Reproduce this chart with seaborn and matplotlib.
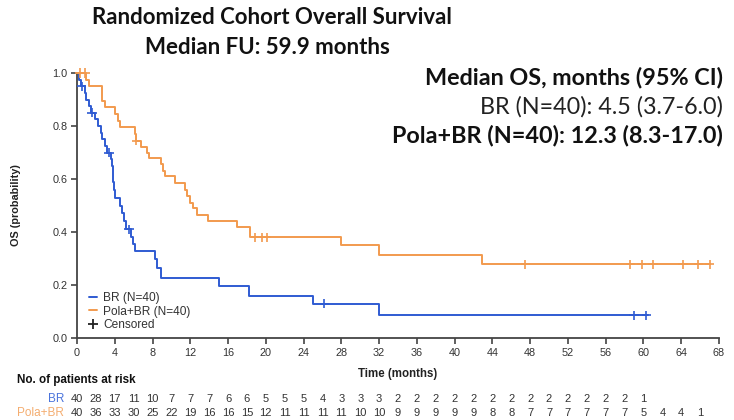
import numpy as np
import pandas as pd
import matplotlib
matplotlib.use("Agg")
import matplotlib.pyplot as plt
import matplotlib.transforms as mtransforms
from matplotlib.lines import Line2D
import seaborn as sns

# ---------------- data ----------------
arms = ["BR (N=40)", "Pola+BR (N=40)"]

br_times = [0, 0.2, 0.4, 0.8, 1.0, 1.3, 1.5, 1.9, 2.2, 2.5, 2.7, 3.0, 3.2, 3.6, 3.75,
            3.8, 3.85, 3.9, 4.0, 4.6, 4.8, 5.0, 5.2, 5.7, 5.9, 6.1, 8.3, 8.5, 8.9,
            15.0, 18.2, 25.0, 32.0, 60.5]
br_surv = [1.0, 0.975, 0.95, 0.925, 0.90, 0.875, 0.85, 0.825, 0.80, 0.775, 0.75, 0.725,
           0.70, 0.675, 0.65, 0.62, 0.59, 0.56, 0.53, 0.50, 0.47, 0.44, 0.41, 0.38,
           0.355, 0.33, 0.30, 0.265, 0.225, 0.195, 0.16, 0.13, 0.085, 0.085]
br_censor = [0.5, 1.6, 3.4, 5.5, 26.2, 59.0, 60.3]

pola_times = [0, 1.0, 1.3, 2.6, 2.7, 3.0, 4.0, 4.3, 4.6, 6.1, 6.2, 6.8, 7.4, 7.6, 8.9,
              9.1, 9.3, 10.4, 11.4, 11.7, 12.0, 12.3, 12.7, 13.9, 16.9, 18.3, 28.0,
              32.0, 42.9, 67.0]
pola_surv = [1.0, 0.975, 0.95, 0.925, 0.895, 0.87, 0.845, 0.82, 0.795, 0.77, 0.745,
             0.72, 0.70, 0.68, 0.655, 0.63, 0.61, 0.585, 0.56, 0.535, 0.51, 0.49,
             0.465, 0.44, 0.42, 0.38, 0.35, 0.315, 0.278, 0.278]
pola_censor = [0.3, 0.85, 6.3, 18.9, 19.6, 20.1, 47.5, 58.6, 59.8, 61.0, 64.2, 65.8, 67.0]

risk_times = list(range(0, 68, 2))
br_risk = [40, 28, 17, 11, 10, 7, 7, 7, 6, 6, 5, 5, 5, 4, 3, 3, 3,
           2, 2, 2, 2, 2, 2, 2, 2, 2, 2, 2, 2, 2, 1]
pola_risk = [40, 36, 33, 30, 25, 22, 19, 16, 16, 15, 12, 11, 11, 11, 11, 10, 10,
             9, 9, 9, 9, 9, 8, 8, 7, 7, 7, 7, 7, 7, 5, 4, 4, 1]

x_ticks = list(range(0, 69, 4))
y_ticks = [0.0, 0.2, 0.4, 0.6, 0.8, 1.0]

title_lines = ["Randomized Cohort Overall Survival", "Median FU: 59.9 months"]
median_header = "Median OS, months (95% CI)"
median_br = "BR (N=40): 4.5 (3.7-6.0)"
median_pola = "Pola+BR (N=40): 12.3 (8.3-17.0)"

# ---------------- style ----------------
BLUE = "#2f5bd2"
ORANGE = "#f29a4e"
BLUE_TXT = "#4b74dc"
ORANGE_TXT = "#f4ad70"
SMALL = ["Liberation Sans", "DejaVu Sans"]

sns.set_style("white")
plt.rcParams["font.family"] = ["Lato", "DejaVu Sans"]

df = pd.concat([
    pd.DataFrame({"time": br_times, "surv": br_surv, "arm": arms[0]}),
    pd.DataFrame({"time": pola_times, "surv": pola_surv, "arm": arms[1]}),
], ignore_index=True)


def surv_at(times, surv, t):
    idx = np.searchsorted(np.asarray(times), t, side="right") - 1
    return np.asarray(surv)[idx]


cens = pd.concat([
    pd.DataFrame({"time": br_censor, "surv": surv_at(br_times, br_surv, br_censor), "arm": arms[0]}),
    pd.DataFrame({"time": pola_censor, "surv": surv_at(pola_times, pola_surv, pola_censor), "arm": arms[1]}),
], ignore_index=True)

palette = {arms[0]: BLUE, arms[1]: ORANGE}

fig = plt.figure(figsize=(7.34, 4.2), dpi=100)
ax = fig.add_axes([77 / 734, 1 - 338 / 420, (719 - 77) / 734, (338 - 73) / 420])

sns.lineplot(data=df, x="time", y="surv", hue="arm", palette=palette,
             drawstyle="steps-post", estimator=None, linewidth=1.4, ax=ax,
             legend=False, clip_on=False, zorder=3)
sns.scatterplot(data=cens, x="time", y="surv", hue="arm", palette=palette,
                marker="+", s=45, linewidth=1.2, ax=ax, legend=False,
                clip_on=False, zorder=4)

ax.set_xlim(0, 68)
ax.set_ylim(0, 1.0)
ax.set_xticks(x_ticks)
ax.set_yticks(y_ticks)
ax.set_yticklabels([f"{v:.1f}" for v in y_ticks])
sns.despine(ax=ax)
for s in ["left", "bottom"]:
    ax.spines[s].set_color("#444444")
    ax.spines[s].set_linewidth(1.3)
ax.tick_params(axis="both", which="major", direction="out", length=4, width=1.2,
               color="#444444", labelsize=7.8, labelcolor="#333333", pad=3,
               bottom=True, left=True)
ax.grid(False)

ax.set_xlabel("Time (months)", fontsize=8.3, fontweight="bold", color="#222222",
              family=SMALL)
ax.xaxis.set_label_coords(0.5, -0.115)
ax.set_ylabel("OS (probability)", fontsize=7.8, fontweight="bold", color="#222222",
              family=SMALL)
ax.yaxis.set_label_coords(-0.088, 0.5)
for lab in ax.get_xticklabels() + ax.get_yticklabels():
    lab.set_family(SMALL)

# legend
handles = [Line2D([], [], color=BLUE, lw=1.4),
           Line2D([], [], color=ORANGE, lw=1.4),
           Line2D([], [], color="#222222", marker="+", lw=0, markersize=7, mew=1.3)]
leg = ax.legend(handles, arms + ["Censored"], loc="lower left",
                bbox_to_anchor=(0.005, -0.005), frameon=False,
                handlelength=0.7, handletextpad=0.5, labelspacing=0.12,
                borderaxespad=0.3, prop={"family": SMALL, "size": 8.6})
for t in leg.get_texts():
    t.set_color("#333333")

# titles
fig.text(272 / 734, 1 - 17 / 420, title_lines[0], ha="center", va="center",
         fontsize=16, fontweight="bold", color="#111111")
fig.text(267 / 734, 1 - 47 / 420, title_lines[1], ha="center", va="center",
         fontsize=16, fontweight="bold", color="#111111")
fig.text(723 / 734, 1 - 77 / 420, median_header, ha="right", va="center",
         fontsize=16.8, fontweight="bold", color="#111111")
fig.text(723 / 734, 1 - 107 / 420, median_br, ha="right", va="center",
         fontsize=16.8, color="#222222")
fig.text(723 / 734, 1 - 136 / 420, median_pola, ha="right", va="center",
         fontsize=16.8, fontweight="bold", color="#111111")

# number at risk table
fig.text(17 / 734, 1 - 380 / 420, "No. of patients at risk", ha="left", va="center",
         fontsize=8.4, fontweight="bold", color="#111111", family=SMALL)
trans = mtransforms.blended_transform_factory(ax.transData, fig.transFigure)
row_y = [1 - 399 / 420, 1 - 413 / 420]
fig.text(64 / 734, row_y[0], "BR", ha="right", va="center", fontsize=8.5,
         color=BLUE_TXT, family=SMALL)
fig.text(64 / 734, row_y[1], "Pola+BR", ha="right", va="center", fontsize=8.5,
         color=ORANGE_TXT, family=SMALL)
for t, n in zip(risk_times, br_risk):
    ax.text(t, row_y[0], str(n), transform=trans, ha="center", va="center",
            fontsize=8, color="#333333", family=SMALL)
for t, n in zip(risk_times, pola_risk):
    ax.text(t, row_y[1], str(n), transform=trans, ha="center", va="center",
            fontsize=8, color="#333333", family=SMALL)

fig.savefig("out.png", dpi=100)
